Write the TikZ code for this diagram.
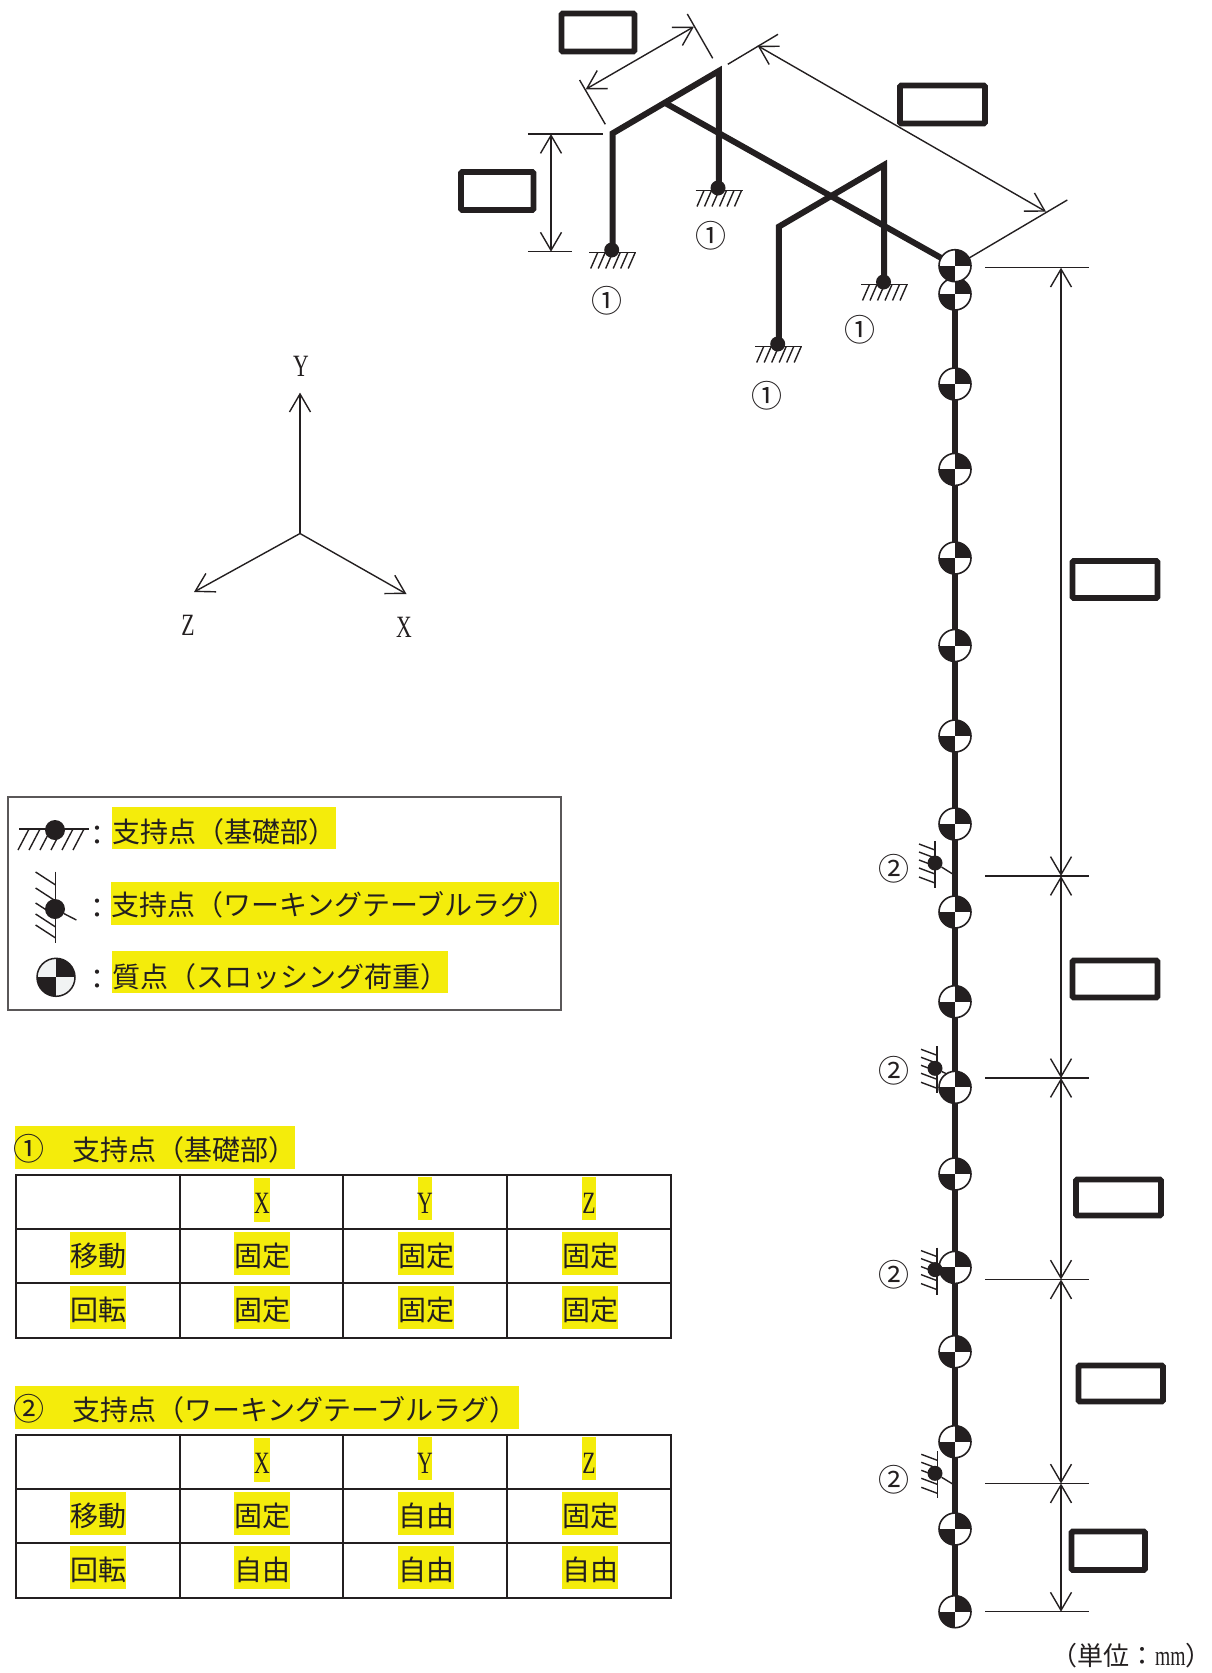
\documentclass[tikz,border=0pt]{standalone}
\usepackage{fontspec}
\usetikzlibrary{arrows.meta,backgrounds}
\newfontfamily\cjk{Noto Sans CJK JP}
\newfontfamily\latn[FakeStretch=0.7]{Liberation Serif}
\definecolor{ink}{HTML}{231F20}
\definecolor{hlc}{HTML}{F4EC0B}
\definecolor{paleq}{HTML}{F1F3F3}
\tikzset{
  thinl/.style={line width=1.4pt,draw=ink},
  heavy/.style={line width=6pt,draw=ink,line join=miter},
  dimline/.style={thinl,{Straight Barb[length=18pt,width=21pt]}-{Straight Barb[length=18pt,width=21pt]}},
  axisline/.style={thinl,-{Straight Barb[length=18pt,width=21pt]}},
  blank/.style={line width=5.8pt,draw=ink,fill=white,rounded corners=1.2pt},
  hl/.style={fill=hlc,draw=none},
  cjkl/.style={inner sep=0pt,anchor=base west,text=ink,font=\cjk\fontsize{28}{30}\selectfont},
  cjkc/.style={inner sep=0pt,anchor=base,text=ink,font=\cjk\fontsize{28}{30}\selectfont},
  circn/.style={inner sep=0pt,anchor=base,text=ink,font=\cjk\fontsize{31}{33}\selectfont},
  latc/.style={inner sep=0pt,anchor=base,text=ink,font=\latn\fontsize{31}{33}\selectfont},
  supdot/.style={circle,fill=ink,inner sep=0pt,minimum size=15pt},
  supdotb/.style={circle,fill=ink,inner sep=0pt,minimum size=20pt},
  massn/.style={circle,draw=ink,line width=1.6pt,fill=white,inner sep=0pt,minimum size=#1,
    path picture={
      \fill[ink] (path picture bounding box.center) rectangle (path picture bounding box.north east);
      \fill[ink] (path picture bounding box.center) rectangle (path picture bounding box.south west);
    }},
  pics/groundsup/.style={code={
    \draw[thinl] (-23.5,0) -- (23.5,0);
    \foreach \hx in {-15,-7.5,0,7.5,15,22.5} \draw[thinl] (\hx,0) -- (\hx-7,16);
  }},
  pics/wallsup/.style={code={
    \draw[line width=1.6pt,draw=ink] (0,-22) -- (0,25);
    \foreach \hy in {-19,-11,-3,5,14} \draw[thinl] (-16,\hy) -- (0,\hy+6);
  }}
}
\begin{document}
\begin{tikzpicture}[x=1pt,y=-1pt]
\useasboundingbox (0,0) rectangle (1212,1673);
% --- highlights
\fill[hl] (112,807) rectangle (336,849);
\fill[hl] (111,882) rectangle (559,925);
\fill[hl] (112,951) rectangle (448,993);
\foreach \dy in {0,260} {
  \foreach \cx in {70,234,398,562} {
    \fill[hl] (\cx,1232+\dy) rectangle (\cx+56,1275+\dy);
    \fill[hl] (\cx,1286+\dy) rectangle (\cx+56,1329+\dy);
  }
}
\fill[hl] (15,1126) rectangle (295,1169);
\fill[hl] (15,1386) rectangle (519,1429);
\foreach \dy in {0,260} {
  \fill[hl] (254,1178+\dy) rectangle (270,1222+\dy);
  \fill[hl] (418,1177+\dy) rectangle (432,1220+\dy);
  \fill[hl] (582,1177+\dy) rectangle (596,1220+\dy);
}
% --- axes
\coordinate (orig) at (300,533.5);
\coordinate (ytip) at (300,392.6);
\coordinate (ztip) at (194,592);
\coordinate (xtip) at (406.5,594);
\draw[axisline] (orig) -- (ytip);
\draw[axisline] (orig) -- (ztip);
\draw[axisline] (orig) -- (xtip);
\node[latc] (ly) at (301,376) {Y};
\node[latc] (lz) at (188,635) {Z};
\node[latc] (lx) at (404,637) {X};
% --- masses
\foreach \i/\y in {17/1611.7,16/1529,15/1441.7,14/1351.7,13/1267.4,12/1174,11/1087.3,10/1001.7,9/912,8/824,7/736,6/645.5,5/558,4/469.4,3/384,2/294,1/265.7}
  \node[massn=32pt] (m\i) at (955,\y) {};
% --- frame
\coordinate (at) at (612.7,133.3);
\coordinate (af) at (612.7,250);
\coordinate (bt) at (718.8,71);
\coordinate (bf) at (718.8,189);
\coordinate (ct) at (778.8,226.7);
\coordinate (cf) at (778.8,345);
\coordinate (dt) at (884,165);
\coordinate (df) at (884,283);
\coordinate (jn) at (665.7,103.3);
\begin{scope}[on background layer]
  \draw[heavy] (m1.center) -- (m17.center);
  \draw[heavy] (af) -- (at) -- (bt) -- (bf);
  \draw[heavy] (cf) -- (ct) -- (dt) -- (df);
  \draw[heavy] (jn) -- (m1.center);
\end{scope}
% --- base supports
\foreach \n/\px/\py in {a/612.7/252.5,b/719/190.5,c/778.7/346.5,d/884.5/284.5} {
  \pic at (\px,\py) {groundsup};
  \node[supdot] (g\n) at (\px-1,\py-2.5) {};
}
\node[circn] (n1a) at (606.5,312) {①};
\node[circn] (n1b) at (711,247) {①};
\node[circn] (n1c) at (860,341) {①};
\node[circn] (n1d) at (766.5,407) {①};
% --- lug supports
\foreach \n/\wx/\py/\tx/\ty in {1/935/863/952.7/874,2/937/1068.3/947/1074,3/937/1269.6/952/1280,4/937.3/1473.3/952.7/1484} {
  \pic at (\wx,\py) {wallsup};
  \node[supdot] (s\n) at (935,\py) {};
  \coordinate (st\n) at (\tx,\ty);
  \draw[thinl] (s\n) -- (st\n);
}
\node[circn] (n2a) at (894,880.5) {②};
\node[circn] (n2b) at (894,1082.5) {②};
\node[circn] (n2c) at (894,1286) {②};
\node[circn] (n2d) at (894,1491) {②};
% --- top dimensions
\coordinate (h1a) at (527.8,134); \coordinate (h1b) at (603,134);
\coordinate (h2a) at (527.8,251.7); \coordinate (h2b) at (572,251.7);
\coordinate (h1m) at (551,134); \coordinate (h2m) at (551,251.7);
\draw[thinl] (h1a) -- (h1b);
\draw[thinl] (h2a) -- (h2b);
\draw[dimline] (h1m) -- (h2m);
\coordinate (w1a) at (579.6,80); \coordinate (w1b) at (605.3,124.3);
\coordinate (w2a) at (687.3,14); \coordinate (w2b) at (712.7,58.3);
\coordinate (w1m) at (585.7,89.3); \coordinate (w2m) at (693.9,26.7);
\draw[thinl] (w1a) -- (w1b);
\draw[thinl] (w2a) -- (w2b);
\draw[dimline] (w1m) -- (w2m);
\coordinate (l1a) at (727.8,64.3); \coordinate (l1b) at (778,34.3);
\coordinate (l2a) at (968.6,258.3); \coordinate (l2b) at (1067.3,200);
\coordinate (l1m) at (757.6,45.7); \coordinate (l2m) at (1046,211.7);
\draw[thinl] (l1a) -- (l1b);
\draw[thinl] (l2a) -- (l2b);
\draw[dimline] (l1m) -- (l2m);
% --- column dimensions
\foreach \i/\y in {1/267.7,2/876,3/1078,4/1279.5,5/1483.5,6/1611.7} {
  \coordinate (tl\i) at (985,\y);
  \coordinate (tr\i) at (1089,\y);
  \coordinate (tm\i) at (1061,\y);
  \draw[thinl] (tl\i) -- (tr\i);
}
\foreach \a/\b in {1/2,2/3,3/4,4/5,5/6} \draw[dimline] (tm\a) -- (tm\b);
% --- blanked-out value boxes
\foreach \xa/\ya/\xb/\yb in {561.5/13.5/634.5/51.5,900/85.5/985/123.5,461/172/533.5/210,1072.5/561/1157.5/598,1072.5/960.5/1157.5/997.5,1076/1179.5/1161/1215.5,1078.5/1365.5/1163/1401.5,1071.5/1531.5/1145/1570}
  \draw[blank] (\xa,\ya) rectangle (\xb,\yb);
% --- legend
\draw[line width=1.2pt,draw=ink!75] (8,797) rectangle (561,1010);
\begin{scope}[shift={(54,829)}]
  \draw[thinl] (-35,0) -- (35,0);
  \foreach \hx in {-25,-14,-3,8,19,30} \draw[thinl] (\hx,0) -- (\hx-11,21);
\end{scope}
\node[supdotb] (lg1) at (55,830) {};
\draw[line width=1.5pt,draw=ink] (55.6,871.7) -- (55.6,942.7);
\foreach \hy in {872,888,903,914,925} \draw[thinl] (35.6,\hy) -- (55.6,\hy+13);
\node[supdotb] (lg2) at (55,909) {};
\coordinate (lg2t) at (76.4,920);
\draw[thinl] (lg2) -- (lg2t);
\node[circle,draw=ink,line width=1.5pt,fill=paleq,inner sep=0pt,minimum size=38pt,
  path picture={
      \fill[ink] (path picture bounding box.center) rectangle (path picture bounding box.north east);
      \fill[ink] (path picture bounding box.center) rectangle (path picture bounding box.south west);
  }] (lg3) at (56,977.3) {};
\node[cjkc] (cl1) at (97,845.6) {：};
\node[cjkc] (cl2) at (97,918.6) {：};
\node[cjkc] (cl3) at (97,989.6) {：};
\node[cjkl] (lt1) at (112,842) {支持点（基礎部）};
\node[cjkl] (lt2) at (111,915.6) {支持点（ワーキングテーブルラグ）};
\node[cjkl] (lt3) at (112,987) {質点（スロッシング荷重）};
% --- tables
\node[circn] (ta) at (28.6,1160.5) {①};
\node[cjkl] (tat) at (72,1160) {支持点（基礎部）};
\node[circn] (tb) at (28.6,1420.5) {②};
\node[cjkl] (tbt) at (72,1420) {支持点（ワーキングテーブルラグ）};
\foreach \dy in {0,260} {
  \draw[line width=1.9pt,draw=ink] (15.8,1175+\dy) rectangle (671,1337.7+\dy);
  \foreach \ly in {1229,1283} \draw[line width=1.9pt,draw=ink] (15.8,\ly+\dy) -- (671,\ly+\dy);
  \foreach \lx in {180,342.9,507} \draw[line width=1.7pt,draw=ink] (\lx,1175+\dy) -- (\lx,1337.7+\dy);
  \node[latc] at (262,1213.3+\dy) {X};
  \node[latc] at (425,1213.3+\dy) {Y};
  \node[latc] at (589,1213.3+\dy) {Z};
  \node[cjkc] at (98,1266.6+\dy) {移動};
  \node[cjkc] at (98,1320.6+\dy) {回転};
}
\foreach \cx in {262,426,590} {
  \node[cjkc] at (\cx,1266.6) {固定};
  \node[cjkc] at (\cx,1320.6) {固定};
  \node[cjkc] at (\cx,1580.6) {自由};
}
\node[cjkc] at (262,1526.6) {固定};
\node[cjkc] at (426,1526.6) {自由};
\node[cjkc] at (590,1526.6) {固定};
% --- unit
\node[inner sep=0pt,anchor=base west,text=ink,font=\cjk\fontsize{26}{28}\selectfont] (unit) at (1051,1665) {（単位：{\latn\fontsize{28}{30}\selectfont mm}）};
\end{tikzpicture}
\end{document}
